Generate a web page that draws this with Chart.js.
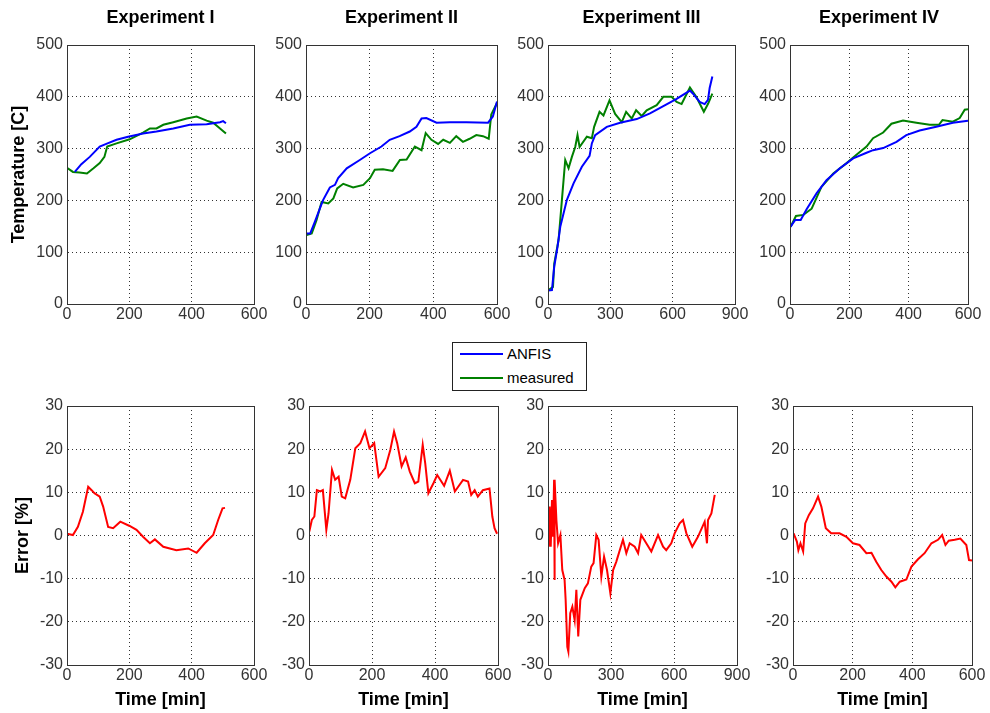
<!DOCTYPE html>
<html>
<head>
<meta charset="utf-8">
<script src="https://cdn.jsdelivr.net/npm/chart.js@4.4.1/dist/chart.umd.min.js"></script>
<style>
  body { margin: 0; background: #fff; width: 990px; height: 713px; position: relative; overflow: hidden; font-family: "Liberation Sans", Arial, sans-serif; }
  canvas { position: absolute; }
  #legend { position: absolute; left: 452px; top: 342px; width: 133px; height: 47px; border: 1px solid #222; background: #fff; z-index: 5; font-size: 15px; color: #000; }
  .item { position: absolute; left: 7px; height: 18px; line-height: 18px; white-space: nowrap; }
  .swatch { display: inline-block; width: 43px; height: 0; border-top: 2px solid; vertical-align: middle; margin-right: 4px; position: relative; top: -1px; }
</style>
</head>
<body>
<div id="legend">
  <div class="item" style="top:2px"><span class="swatch" style="border-color:#0000ff"></span>ANFIS</div>
  <div class="item" style="top:26px"><span class="swatch" style="border-color:#008000"></span>measured</div>
</div>
<script>
// tick labels
const tempTicks = [0, 100, 200, 300, 400, 500];
const errTicks = [-30, -20, -10, 0, 10, 20, 30];
const timeTicks600 = [0, 200, 400, 600];
const timeTicks900 = [0, 300, 600, 900];

const titles = ['Experiment I', 'Experiment II', 'Experiment III', 'Experiment IV'];

// Experiment I
const e1AnfisT = [25, 46, 73, 105, 126, 159, 196, 244, 287, 341, 394, 448, 491, 501, 510];
const e1AnfisV = [255, 270, 284, 304, 309, 317, 323, 329, 333, 339, 346, 347, 351, 353, 349];
const e1MeasT = [0, 19, 40, 64, 85, 105, 120, 129, 159, 201, 244, 266, 287, 309, 341, 384, 416, 448, 469, 491, 510];
const e1MeasV = [263, 255, 254, 252, 262, 272, 284, 304, 310, 318, 331, 339, 339, 346, 351, 358, 362, 354, 350, 339, 329];
const e1ErrT = [0, 19, 35, 51, 68, 79, 88, 105, 116, 132, 148, 171, 201, 223, 244, 266, 282, 309, 351, 389, 416, 442, 469, 485, 499, 507];
const e1ErrV = [0.4, 0.1, 2.0, 5.5, 11.3, 10.5, 9.8, 9.0, 6.7, 2.0, 1.7, 3.2, 2.2, 1.3, -0.3, -1.8, -0.9, -2.6, -3.4, -3.0, -4.0, -1.8, 0.1, 3.6, 6.3, 6.4];

// Experiment II
const e2AnfisT = [2, 13, 28, 44, 54, 75, 91, 101, 128, 169, 201, 237, 263, 294, 326, 347, 363, 378, 410, 452, 504, 572, 587, 600];
const e2AnfisV = [136, 136, 159, 185, 201, 225, 230, 243, 262, 278, 291, 304, 317, 324, 333, 342, 358, 359, 350, 351, 351, 350, 362, 391];
const e2MeasT = [2, 18, 33, 49, 70, 86, 98, 117, 148, 180, 201, 216, 242, 272, 295, 316, 342, 363, 376, 394, 415, 431, 452, 472, 493, 514, 535, 556, 574, 582, 600];
const e2MeasV = [133, 136, 162, 197, 194, 204, 223, 232, 225, 230, 243, 259, 260, 257, 278, 279, 304, 297, 330, 317, 309, 317, 311, 324, 313, 319, 326, 324, 319, 366, 388];
const e2ErrT = [1, 9, 17, 25, 36, 44, 55, 62, 73, 83, 94, 104, 115, 131, 147, 163, 178, 192, 207, 221, 242, 258, 270, 280, 294, 307, 320, 336, 347, 361, 369, 379, 395, 407, 429, 447, 463, 489, 505, 515, 526, 536, 552, 573, 582, 589, 597];
const e2ErrV = [0.9, 3.6, 4.4, 10.5, 10.2, 10.5, 1.3, 5.1, 15.2, 12.9, 13.6, 9.0, 8.6, 12.9, 20.2, 21.4, 24.1, 20.2, 21.4, 13.6, 15.6, 19.8, 24.1, 21.4, 16.0, 18.1, 14.8, 12.1, 12.5, 21.0, 16.7, 9.8, 12.1, 14.0, 11.5, 15.0, 10.2, 12.9, 12.5, 9.4, 10.5, 9.0, 10.5, 10.9, 4.4, 1.7, 0.4];

// Experiment III
const e3AnfisT = [0, 19, 30, 46, 59, 75, 91, 123, 163, 200, 211, 227, 283, 347, 427, 491, 555, 619, 683, 698, 730, 754, 770, 778, 791];
const e3AnfisV = [26, 27, 72, 111, 149, 175, 201, 233, 265, 286, 310, 326, 342, 350, 357, 368, 382, 396, 412, 406, 390, 386, 394, 417, 439];
const e3MeasT = [0, 24, 30, 51, 67, 83, 99, 115, 131, 142, 152, 187, 211, 222, 248, 267, 296, 323, 355, 376, 403, 424, 451, 475, 523, 555, 595, 619, 643, 683, 715, 750, 771, 791];
const e3MeasV = [26, 33, 78, 124, 201, 278, 262, 284, 303, 326, 303, 323, 320, 342, 371, 364, 393, 367, 351, 371, 358, 374, 363, 374, 384, 400, 400, 390, 386, 418, 399, 371, 387, 406];
const e3ErrT = [3, 8, 13, 19, 24, 29, 30, 33, 40, 48, 59, 68, 79, 84, 92, 97, 106, 116, 127, 135, 144, 154, 175, 190, 206, 217, 230, 241, 254, 267, 281, 297, 310, 325, 357, 373, 389, 413, 429, 444, 468, 492, 524, 548, 563, 587, 603, 627, 643, 659, 687, 714, 746, 757, 762, 778, 794];
const e3ErrV = [-2.6, 6.7, -2.6, 8.2, -0.3, 12.9, -10.3, 12.9, 3.6, -1.8, 0.1, -8.0, -10.3, -14.9, -25.8, -26.9, -18.0, -16.5, -19.6, -12.6, -23.4, -14.9, -12.2, -11.1, -7.2, -6.4, 0.1, -1.0, -9.5, -4.9, -8.0, -13.4, -8.0, -6.1, -1.0, -4.1, -1.8, -2.6, -4.1, 0.1, -1.8, -3.7, 0.1, -2.6, -3.4, -1.8, 0.5, 2.8, 3.6, 0.5, -2.6, -0.3, 3.2, -1.8, 3.6, 5.1, 9.4];

// Experiment IV
const e4AnfisT = [2, 17, 36, 56, 90, 123, 168, 213, 258, 280, 314, 359, 392, 437, 493, 549, 600];
const e4AnfisV = [149, 162, 162, 183, 214, 239, 262, 281, 292, 297, 301, 313, 326, 335, 342, 350, 354];
const e4MeasT = [2, 20, 45, 73, 106, 146, 191, 224, 258, 280, 314, 342, 381, 426, 471, 502, 514, 549, 572, 589, 600];
const e4MeasV = [149, 170, 172, 184, 226, 252, 272, 288, 304, 320, 331, 348, 354, 350, 346, 346, 355, 352, 359, 375, 376];
const e4ErrT = [2, 13, 18, 25, 34, 41, 53, 67, 84, 95, 110, 128, 156, 179, 201, 223, 246, 263, 279, 296, 313, 330, 343, 358, 380, 397, 419, 441, 464, 486, 500, 511, 522, 542, 561, 581, 590, 600];
const e4ErrV = [0.5, -1.4, -3.4, -1.8, -3.7, 2.8, 4.7, 6.3, 9.0, 6.7, 1.7, 0.5, 0.5, -0.3, -1.8, -2.2, -4.1, -4.0, -6.1, -8.0, -9.5, -10.7, -12.0, -10.7, -10.2, -7.2, -5.5, -4.1, -1.8, -1.0, 0.1, -2.2, -1.2, -1.0, -0.7, -2.2, -5.7, -5.8];

const BLUE = '#0000ff', GREEN = '#008000', RED = '#ff0000';
const FONT = '"Liberation Sans", Arial, sans-serif';
Chart.defaults.font.family = FONT;

// frame around every plot area (matlab box on)
const boxPlugin = {
    id: 'box',
    afterDraw(chart) {
        const a = chart.chartArea;
        const ctx = chart.ctx;
        ctx.save();
        ctx.strokeStyle = '#333';
        ctx.lineWidth = 1;
        ctx.strokeRect(Math.round(a.left) + 0.5, Math.round(a.top) + 0.5, Math.round(a.right - a.left), Math.round(a.bottom - a.top));
        ctx.restore();
    }
};

const panels = [
    { row: 0, col: 0, left: 67, top: 45, w: 187, xt: timeTicks600, series: [[e1AnfisT, e1AnfisV, BLUE], [e1MeasT, e1MeasV, GREEN]] },
    { row: 0, col: 1, left: 306, top: 45, w: 191, xt: timeTicks600, series: [[e2AnfisT, e2AnfisV, BLUE], [e2MeasT, e2MeasV, GREEN]] },
    { row: 0, col: 2, left: 548, top: 45, w: 187, xt: timeTicks900, series: [[e3AnfisT, e3AnfisV, BLUE], [e3MeasT, e3MeasV, GREEN]] },
    { row: 0, col: 3, left: 790, top: 45, w: 178, xt: timeTicks600, series: [[e4AnfisT, e4AnfisV, BLUE], [e4MeasT, e4MeasV, GREEN]] },
    { row: 1, col: 0, left: 67, top: 406, w: 187, xt: timeTicks600, series: [[e1ErrT, e1ErrV, RED]] },
    { row: 1, col: 1, left: 309, top: 406, w: 189, xt: timeTicks600, series: [[e2ErrT, e2ErrV, RED]] },
    { row: 1, col: 2, left: 548, top: 406, w: 189, xt: timeTicks900, series: [[e3ErrT, e3ErrV, RED]] },
    { row: 1, col: 3, left: 793, top: 406, w: 179, xt: timeTicks600, series: [[e4ErrT, e4ErrV, RED]] }
];

function drawPanel(p) {
    const top = p.row === 0;
    const L = p.col === 0 ? p.left : 45;
    const R = 18;
    const T = top ? 45 : 20;
    const B = top ? 30 : 46;
    const H = 259;
    const yt = top ? tempTicks : errTicks;

    const canvas = document.createElement('canvas');
    canvas.width = L + p.w + R;
    canvas.height = T + H + B;
    canvas.style.left = (p.left - L) + 'px';
    canvas.style.top = (p.top - T) + 'px';
    document.body.appendChild(canvas);

    const gridOpts = { color: '#333', lineWidth: 1, drawTicks: false };
    const borderOpts = { color: '#333', width: 1, dash: [1, 3] };
    const tickFont = { family: FONT, size: 16 };
    const labelFont = { family: FONT, size: 18, weight: 'bold' };

    new Chart(canvas, {
        type: 'line',
        data: {
            datasets: p.series.map(s => ({
                data: s[0].map((t, i) => ({ x: t, y: s[1][i] })),
                borderColor: s[2],
                borderWidth: 2,
                pointRadius: 0,
                tension: 0,
                fill: false
            }))
        },
        options: {
            responsive: false,
            animation: false,
            devicePixelRatio: 1,
            layout: { padding: { left: 0, right: R, top: top ? 0 : T, bottom: 0 } },
            plugins: {
                legend: { display: false },
                tooltip: { enabled: false },
                title: {
                    display: top,
                    text: titles[p.col],
                    fullSize: false,
                    color: '#000',
                    font: labelFont,
                    padding: { top: 7, bottom: 16.4 }
                }
            },
            scales: {
                x: {
                    type: 'linear',
                    min: p.xt[0],
                    max: p.xt[p.xt.length - 1],
                    afterBuildTicks: s => { s.ticks = p.xt.map(v => ({ value: v })); },
                    afterFit: s => { s.height = B; },
                    grid: gridOpts,
                    border: borderOpts,
                    ticks: { color: '#333', font: tickFont, padding: 1, maxRotation: 0 },
                    title: { display: !top, text: 'Time [min]', color: '#000', font: labelFont, padding: { top: 0, bottom: 0 } }
                },
                y: {
                    type: 'linear',
                    min: yt[0],
                    max: yt[yt.length - 1],
                    afterBuildTicks: s => { s.ticks = yt.map(v => ({ value: v })); },
                    afterFit: s => { s.width = L; },
                    grid: gridOpts,
                    border: borderOpts,
                    ticks: { color: '#333', font: tickFont, padding: 4 },
                    title: {
                        display: p.col === 0,
                        text: top ? 'Temperature [C]' : 'Error [%]',
                        color: '#000',
                        font: labelFont,
                        padding: { top: top ? 8 : 12, bottom: 0 }
                    }
                }
            }
        },
        plugins: [boxPlugin]
    });
}

panels.forEach(drawPanel);
</script>
</body>
</html>
